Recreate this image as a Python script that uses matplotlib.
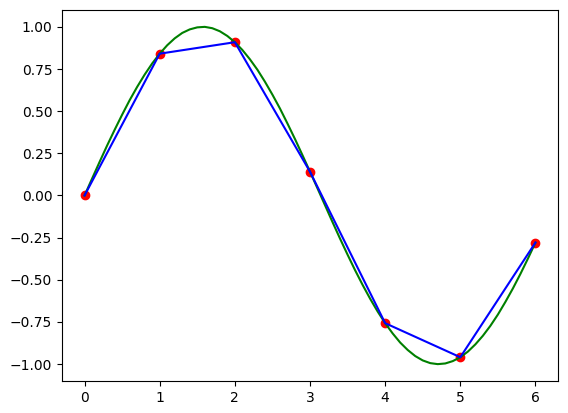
import matplotlib
matplotlib.use("Agg")
import matplotlib.pyplot as plt

# Sample points (red markers, blue polyline)
x_pts = [0, 1, 2, 3, 4, 5, 6]
y_pts = [0.000, 0.841, 0.909, 0.141, -0.757, -0.959, -0.279]

# Smooth green curve at 0.1 steps
x_curve = [i / 10 for i in range(61)]
y_curve = [0.000, 0.100, 0.199, 0.296, 0.389, 0.479, 0.565, 0.644, 0.717, 0.783,
           0.841, 0.891, 0.932, 0.964, 0.985, 0.997, 1.000, 0.992, 0.974, 0.946,
           0.909, 0.863, 0.808, 0.746, 0.675, 0.598, 0.516, 0.427, 0.335, 0.239,
           0.141, 0.042, -0.058, -0.158, -0.256, -0.351, -0.443, -0.530, -0.612, -0.688,
           -0.757, -0.818, -0.872, -0.916, -0.952, -0.978, -0.994, -1.000, -0.996, -0.982,
           -0.959, -0.926, -0.883, -0.832, -0.773, -0.706, -0.631, -0.551, -0.465, -0.374,
           -0.279]

fig = plt.figure(figsize=(5.68, 4.13), dpi=100)
ax = fig.add_axes([62 / 568, 1 - 381 / 413, (558 - 62) / 568, (381 - 10) / 413])
ax.plot(x_pts, y_pts, 'ro')
ax.plot(x_curve, y_curve, color='green')
ax.plot(x_pts, y_pts, color='blue')
fig.savefig("out.png", dpi=100)
